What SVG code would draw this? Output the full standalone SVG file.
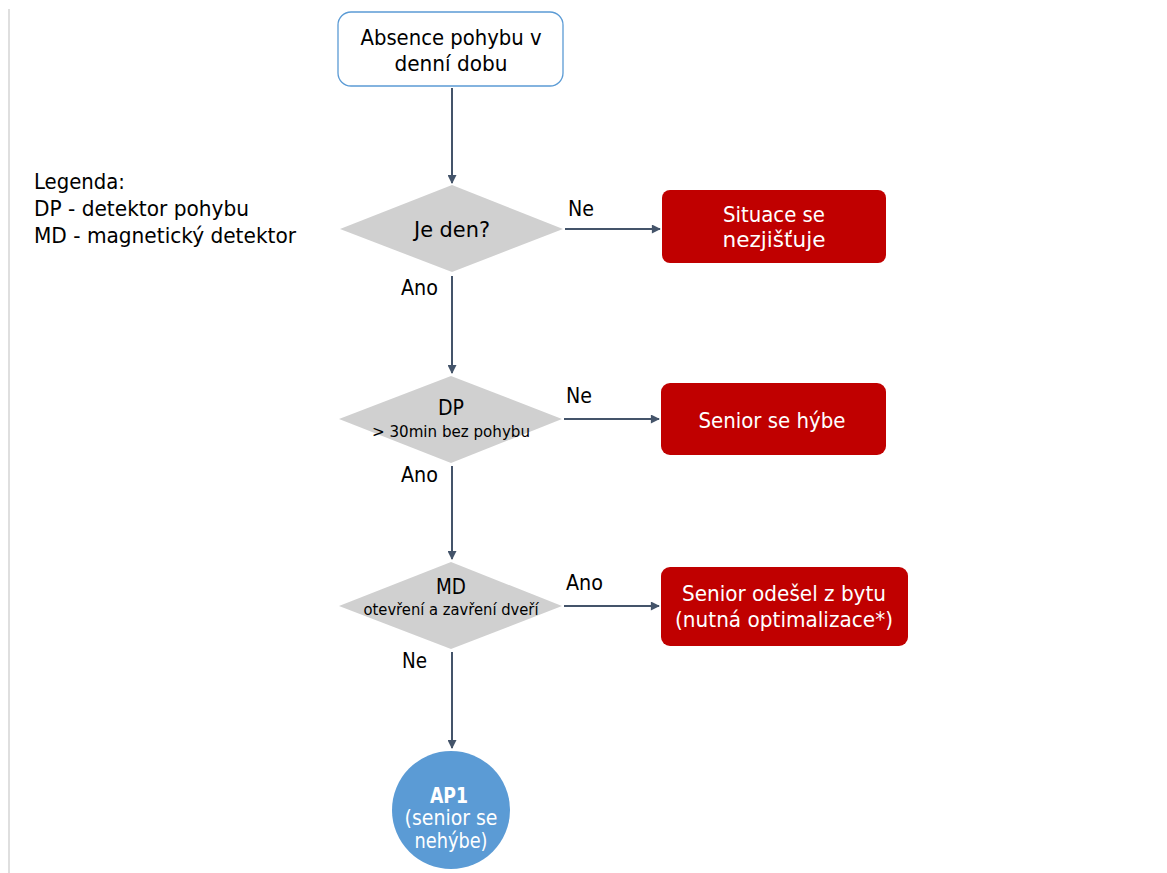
<svg xmlns="http://www.w3.org/2000/svg" width="1167" height="873" viewBox="0 0 1167 873">
  <style>
    text { font-family: "DejaVu Sans Condensed", "DejaVu Sans", sans-serif; font-size: 21px; }
    .sm { font-size: 16px; }
    .ctr { text-anchor: middle; }
    .dk { fill: #000; }
    .wh { fill: #fff; }
    .start { fill: #fff; stroke: #5b9bd5; stroke-width: 1.3; }
    .dec { fill: #d0d0d0; }
    .out { fill: #c00000; }
    .end { fill: #5b9bd5; }
    .conn { stroke: #44546a; stroke-width: 2; fill: none; marker-end: url(#ah); }
  </style>
  <defs>
    <marker id="ah" viewBox="0 0 10 10" refX="9" refY="5" markerWidth="5" markerHeight="4.5" orient="auto">
      <path d="M0,0 L10,5 L0,10 z" fill="#44546a"/>
    </marker>
  </defs>

  <rect width="1167" height="873" fill="#fff"/>
  <line x1="9" y1="9" x2="9" y2="873" stroke="#bfbfbf" stroke-width="1"/>

  <!-- legend -->
  <g id="legend" class="dk">
    <text x="34" y="189" textLength="91" lengthAdjust="spacingAndGlyphs">Legenda:</text>
    <text x="34" y="216" textLength="215" lengthAdjust="spacingAndGlyphs">DP - detektor pohybu</text>
    <text x="34" y="243" textLength="262" lengthAdjust="spacingAndGlyphs">MD - magnetický detektor</text>
  </g>

  <!-- connectors -->
  <g id="connectors">
    <line class="conn" x1="452" y1="88" x2="452" y2="183"/>
    <line class="conn" x1="565" y1="229" x2="660" y2="229"/>
    <line class="conn" x1="452" y1="276" x2="452" y2="373"/>
    <line class="conn" x1="564" y1="419" x2="659" y2="419"/>
    <line class="conn" x1="452" y1="466" x2="452" y2="559"/>
    <line class="conn" x1="564" y1="606" x2="659" y2="606"/>
    <line class="conn" x1="452" y1="652" x2="452" y2="748"/>
    <text class="dk" x="568" y="216" textLength="26" lengthAdjust="spacingAndGlyphs">Ne</text>
    <text class="dk" x="401" y="295" textLength="37" lengthAdjust="spacingAndGlyphs">Ano</text>
    <text class="dk" x="566" y="403" textLength="26" lengthAdjust="spacingAndGlyphs">Ne</text>
    <text class="dk" x="401" y="482" textLength="37" lengthAdjust="spacingAndGlyphs">Ano</text>
    <text class="dk" x="566" y="590" textLength="37" lengthAdjust="spacingAndGlyphs">Ano</text>
    <text class="dk" x="402" y="668" textLength="25" lengthAdjust="spacingAndGlyphs">Ne</text>
  </g>

  <g id="start">
    <rect class="start" x="338" y="12" width="225" height="74" rx="13"/>
    <text class="ctr dk" x="451" y="45" textLength="181" lengthAdjust="spacingAndGlyphs">Absence pohybu v</text>
    <text class="ctr dk" x="451" y="71" textLength="113" lengthAdjust="spacingAndGlyphs">denní dobu</text>
  </g>

  <g id="dec-day">
    <polygon class="dec" points="452,185 563,229 452,272 340,229"/>
    <text class="ctr dk" x="452" y="237" textLength="76" lengthAdjust="spacingAndGlyphs">Je den?</text>
  </g>

  <g id="out-none">
    <rect class="out" x="662" y="190" width="224" height="73" rx="8"/>
    <text class="ctr wh" x="774" y="222" textLength="102" lengthAdjust="spacingAndGlyphs">Situace se</text>
    <text class="ctr wh" x="774" y="247" textLength="103" lengthAdjust="spacingAndGlyphs">nezjišťuje</text>
  </g>

  <g id="dec-dp">
    <polygon class="dec" points="451,376 562,419 451,463 339,419"/>
    <text class="ctr dk" x="451" y="415" textLength="26" lengthAdjust="spacingAndGlyphs">DP</text>
    <text class="ctr dk sm" x="451" y="437" textLength="158" lengthAdjust="spacingAndGlyphs">&gt; 30min bez pohybu</text>
  </g>

  <g id="out-moves">
    <rect class="out" x="661" y="383" width="225" height="72" rx="9"/>
    <text class="ctr wh" x="772" y="428" textLength="147" lengthAdjust="spacingAndGlyphs">Senior se hýbe</text>
  </g>

  <g id="dec-md">
    <polygon class="dec" points="451,562 562,606 451,649 339,606"/>
    <text class="ctr dk" x="451" y="594" textLength="30" lengthAdjust="spacingAndGlyphs">MD</text>
    <text class="ctr dk sm" x="451" y="615" textLength="175" lengthAdjust="spacingAndGlyphs">otevření a zavření dveří</text>
  </g>

  <g id="out-left">
    <rect class="out" x="661" y="567" width="247" height="79" rx="9"/>
    <text class="ctr wh" x="784" y="601" textLength="204" lengthAdjust="spacingAndGlyphs">Senior odešel z bytu</text>
    <text class="ctr wh" x="784" y="627" textLength="218" lengthAdjust="spacingAndGlyphs">(nutná optimalizace*)</text>
  </g>

  <g id="ap1">
    <circle class="end" cx="451" cy="810" r="59"/>
    <text class="ctr wh" x="449" y="803" font-size="18" font-weight="bold" textLength="38" lengthAdjust="spacingAndGlyphs">AP1</text>
    <text class="ctr wh" x="451" y="825" font-size="19" textLength="93" lengthAdjust="spacingAndGlyphs">(senior se</text>
    <text class="ctr wh" x="451" y="848" font-size="19" textLength="73" lengthAdjust="spacingAndGlyphs">nehýbe)</text>
  </g>
</svg>
